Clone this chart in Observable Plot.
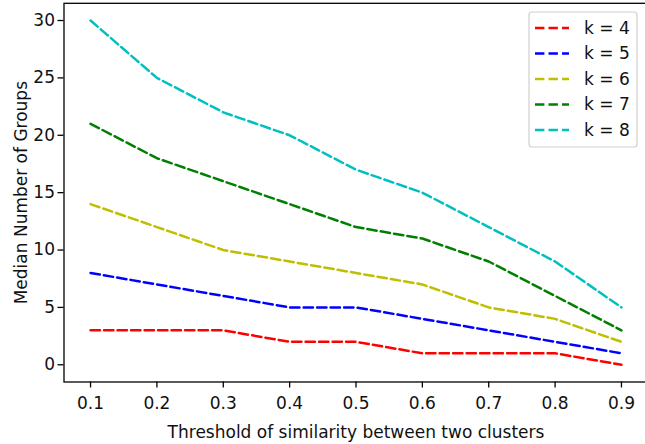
<!DOCTYPE html>
<html>
<head>
<meta charset="utf-8">
<script src="https://cdn.jsdelivr.net/npm/d3@7"></script>
<script src="https://cdn.jsdelivr.net/npm/@observablehq/plot@0.6"></script>
<style>
  html, body { margin: 0; padding: 0; background: white; overflow: hidden; }
  #chart svg { max-width: none; display: block; }
</style>
</head>
<body>
<div id="chart"></div>
<script>
// ---- data ----
const thresholds = [0.1, 0.2, 0.3, 0.4, 0.5, 0.6, 0.7, 0.8, 0.9];
const kLabels = ["k = 4", "k = 5", "k = 6", "k = 7", "k = 8"];
const k4 = [3, 3, 3, 2, 2, 1, 1, 1, 0];
const k5 = [8, 7, 6, 5, 5, 4, 3, 2, 1];
const k6 = [14, 12, 10, 9, 8, 7, 5, 4, 2];
const k7 = [21, 18, 16, 14, 12, 11, 9, 6, 3];
const k8 = [30, 25, 22, 20, 17, 15, 12, 9, 5];
const xTicks = [0.1, 0.2, 0.3, 0.4, 0.5, 0.6, 0.7, 0.8, 0.9];
const yTicks = [0, 5, 10, 15, 20, 25, 30];
const xTitle = "Threshold of similarity between two clusters";
const yTitle = "Median Number of Groups";

// ---- styles ----
const colors = ["#ff0000", "#0000ff", "#bfbf00", "#008000", "#00bfbf"];
const FONT = 17;
const DASH = "9.4,4.1";

const seriesValues = [k4, k5, k6, k7, k8];
const rows = seriesValues.flatMap((vals, i) =>
  vals.map((v, j) => ({ t: thresholds[j], v, k: kLabels[i] }))
);

const chart = Plot.plot({
  width: 645,
  height: 444,
  marginLeft: 63.5,
  marginRight: -2.5,
  marginTop: 2.8,
  marginBottom: 62.5,
  style: { fontFamily: "DejaVu Sans", fontSize: FONT + "px", background: "white", color: "black" },
  x: { domain: [0.06, 0.94] },
  y: { domain: [-1.5, 31.5] },
  color: { domain: kLabels, range: colors },
  marks: [
    Plot.line(rows, { x: "t", y: "v", z: "k", stroke: "k", strokeWidth: 2.5, strokeDasharray: DASH }),
    Plot.frame({ stroke: "black", strokeWidth: 1.3 }),
    Plot.axisX({ ticks: xTicks, tickFormat: d3.format(".1f"), tickSize: 6, tickPadding: 9, strokeWidth: 1.3, fontSize: FONT, label: null, fill: "#111" }),
    Plot.axisY({ ticks: yTicks, tickFormat: d3.format("d"), tickSize: 6, tickPadding: 3, strokeWidth: 1.3, fontSize: FONT, label: null, fill: "#111" }),
    Plot.text([xTitle], { frameAnchor: "bottom", dy: 51, lineAnchor: "middle", textAnchor: "middle", fontSize: FONT, fill: "#111" }),
    Plot.text([yTitle], { frameAnchor: "left", dx: -42, rotate: -90, lineAnchor: "middle", textAnchor: "middle", fontSize: FONT, fill: "#111" })
  ]
});

document.getElementById("chart").appendChild(chart);

// ---- legend (matplotlib-style box, upper right) ----
const svg = d3.select(chart);
const lg = svg.append("g").attr("font-family", "DejaVu Sans").attr("font-size", FONT).attr("text-anchor", "start");
const box = { x0: 529, x1: 637, y0: 12, y1: 147 };
lg.append("rect")
  .attr("x", box.x0).attr("y", box.y0)
  .attr("width", box.x1 - box.x0).attr("height", box.y1 - box.y0)
  .attr("rx", 3).attr("fill", "white").attr("fill-opacity", 0.8)
  .attr("stroke", "#d0d0d0").attr("stroke-width", 1.2);
const rowY0 = 28, rowStep = 25.5;
kLabels.forEach((lab, i) => {
  const yy = rowY0 + i * rowStep;
  lg.append("line")
    .attr("x1", 535).attr("x2", 569).attr("y1", yy).attr("y2", yy)
    .attr("stroke", colors[i]).attr("stroke-width", 2.5).attr("stroke-dasharray", DASH);
  lg.append("text")
    .attr("x", 584).attr("y", yy).attr("dy", "0.35em")
    .attr("text-anchor", "start")
    .attr("fill", "#111").text(lab);
});
</script>
</body>
</html>
